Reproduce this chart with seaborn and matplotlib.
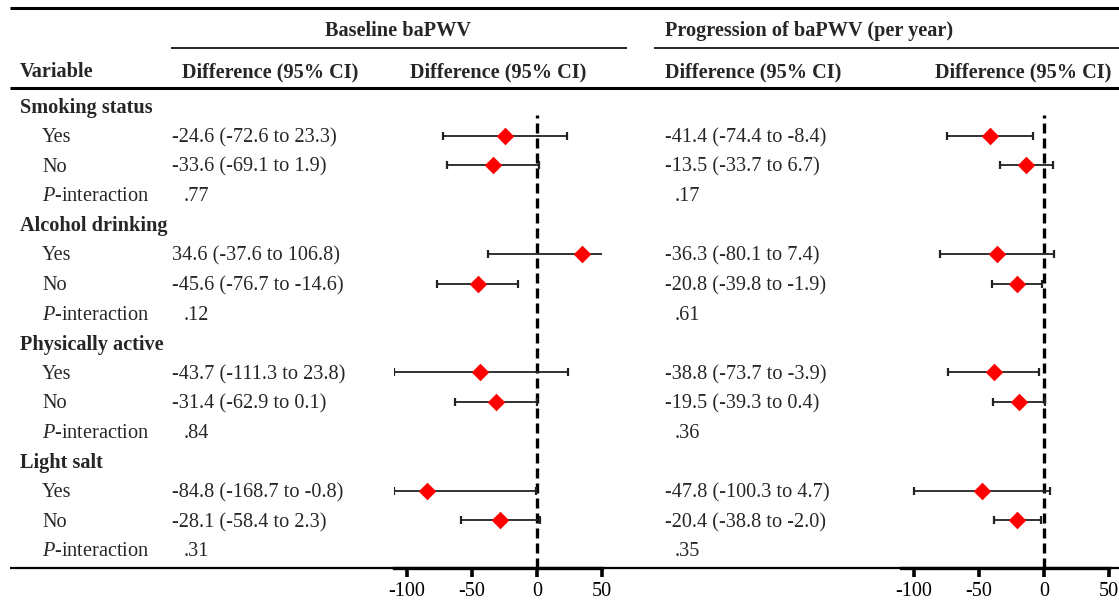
import numpy as np
import pandas as pd
import matplotlib
matplotlib.use("Agg")
import matplotlib.pyplot as plt
import seaborn as sns

# ---------------- data ----------------
groups = ["Smoking status", "Alcohol drinking", "Physically active", "Light salt"]
levels = ["Yes", "No"]

base_est = [-24.6, -33.6, 34.6, -45.6, -43.7, -31.4, -84.8, -28.1]
base_lo = [-72.6, -69.1, -37.6, -76.7, -111.3, -62.9, -168.7, -58.4]
base_hi = [23.3, 1.9, 106.8, -14.6, 23.8, 0.1, -0.8, 2.3]
base_p = [".77", ".12", ".84", ".31"]

prog_est = [-41.4, -13.5, -36.3, -20.8, -38.8, -19.5, -47.8, -20.4]
prog_lo = [-74.4, -33.7, -80.1, -39.8, -73.7, -39.3, -100.3, -38.8]
prog_hi = [-8.4, 6.7, 7.4, -1.9, -3.9, 0.4, 4.7, -2.0]
prog_p = [".17", ".61", ".36", ".35"]

xticks = [-100, -50, 0, 50]
xlims = (-110, 50)

# ---------------- style ----------------
sns.set_style("ticks")
plt.rcParams["font.family"] = ["Liberation Serif", "DejaVu Serif"]
plt.rcParams["mathtext.fontset"] = "custom"
plt.rcParams["mathtext.rm"] = "Liberation Serif"
plt.rcParams["mathtext.it"] = "Liberation Serif:italic"
FS = 14.6

W, H = 1119, 601
fig = plt.figure(figsize=(W / 100, H / 100), dpi=100)
ax0 = fig.add_axes([0, 0, 1, 1])
ax0.set_xlim(0, W)
ax0.set_ylim(H, 0)
ax0.axis("off")

# row layout (pixel coordinates)
row0, step = 106, 29.6
n_rows = len(groups) * 4
row_y = [row0 + i * step for i in range(n_rows)]
toff = 2  # text baseline offset

# horizontal rules
ax0.plot([10, W], [8, 8], color="black", lw=2.2, solid_capstyle="butt")
ax0.plot([171, 627], [48, 48], color="black", lw=1.2, solid_capstyle="butt")
ax0.plot([654, W], [48, 48], color="black", lw=1.2, solid_capstyle="butt")
ax0.plot([10, W], [88, 88], color="black", lw=2.2, solid_capstyle="butt")
ax0.plot([10, W], [568, 568], color="black", lw=1.6, solid_capstyle="butt")

# headers
ax0.text(398, 31, "Baseline baPWV", fontsize=FS, fontweight="bold", ha="center", va="center")
ax0.text(665, 31, "Progression of baPWV (per year)", fontsize=FS, fontweight="bold", ha="left", va="center")
ax0.text(20, 72, "Variable", fontsize=FS, fontweight="bold", ha="left", va="center")
ax0.text(182, 72, "Difference (95% CI)", fontsize=FS, fontweight="bold", ha="left", va="center")
ax0.text(410, 72, "Difference (95% CI)", fontsize=FS, fontweight="bold", ha="left", va="center")
ax0.text(665, 72, "Difference (95% CI)", fontsize=FS, fontweight="bold", ha="left", va="center")
ax0.text(935, 72, "Difference (95% CI)", fontsize=FS, fontweight="bold", ha="left", va="center")

# body text
est_rows = []
for g, name in enumerate(groups):
    yg = row_y[g * 4] + toff
    ax0.text(20, yg, name, fontsize=FS, fontweight="bold", ha="left", va="center")
    for k, lev in enumerate(levels):
        i = g * 2 + k
        y = row_y[g * 4 + 1 + k]
        est_rows.append(y)
        ax0.text(42, y + toff, lev, fontsize=FS, ha="left", va="center")
        ax0.text(172, y + toff, f"{base_est[i]:.1f} ({base_lo[i]:.1f} to {base_hi[i]:.1f})",
                 fontsize=FS, ha="left", va="center")
        ax0.text(665, y + toff, f"{prog_est[i]:.1f} ({prog_lo[i]:.1f} to {prog_hi[i]:.1f})",
                 fontsize=FS, ha="left", va="center")
    yp = row_y[g * 4 + 3] + toff
    ax0.text(42, yp, r"$\it{P}$-interaction", fontsize=FS, ha="left", va="center")
    ax0.text(184, yp, base_p[g], fontsize=FS, ha="left", va="center")
    ax0.text(675, yp, prog_p[g], fontsize=FS, ha="left", va="center")


def forest(left_px, est, lo, hi):
    right_px = left_px + (xlims[1] - xlims[0]) * 1.3
    top_px, bot_px = 115, 568
    ax = fig.add_axes([left_px / W, (H - bot_px) / H, (right_px - left_px) / W, (bot_px - top_px) / H])
    ax.patch.set_alpha(0)
    df = pd.DataFrame({"est": est, "lo": lo, "hi": hi, "y": est_rows})
    lo_c = np.clip(df["lo"], xlims[0], xlims[1])
    hi_c = np.clip(df["hi"], xlims[0], xlims[1])
    sns.scatterplot(data=df, x="est", y="y", marker="D", color="red", s=80, linewidth=0,
                    ax=ax, zorder=4, legend=False)
    ax.axvline(0, color="black", lw=2.4, ls=(0, (3.0, 1.5)), zorder=2)
    ax.hlines(df["y"], lo_c, hi_c, color="#222222", lw=1.3, zorder=2)
    ax.plot(lo_c, df["y"], ls="none", marker="|", ms=6, mew=1.6, color="#222222", zorder=2)
    inside = df["hi"] <= xlims[1]
    ax.plot(hi_c[inside], df["y"][inside], ls="none", marker="|", ms=6, mew=1.6, color="#222222", zorder=2)
    ax.set_xlim(*xlims)
    ax.set_ylim(bot_px, top_px)
    for s in ["top", "right", "left"]:
        ax.spines[s].set_visible(False)
    ax.spines["bottom"].set_linewidth(2.4)
    ax.spines["bottom"].set_color("black")
    ax.set_xticks(xticks)
    ax.set_xticklabels([str(t) for t in xticks])
    # tick marks drawn on the x scale, hanging below the axis line
    ax.vlines(xticks, 0, -9 / (bot_px - top_px), transform=ax.get_xaxis_transform(),
              color="black", lw=2.6, clip_on=False, zorder=5)
    ax.tick_params(axis="x", length=0, labelsize=FS, labelcolor="black", pad=10)
    ax.tick_params(axis="y", left=False, labelleft=False)
    ax.set_xlabel("")
    ax.set_ylabel("")
    return ax


forest(394, base_est, base_lo, base_hi)
forest(901, prog_est, prog_lo, prog_hi)

fig.savefig("out.png", dpi=100)
